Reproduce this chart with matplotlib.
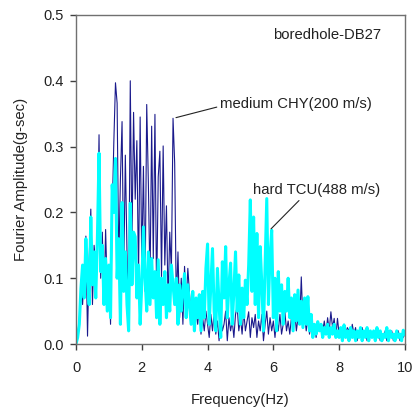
import numpy as np
import matplotlib
matplotlib.use('Agg')
import matplotlib.pyplot as plt

plt.rcParams['font.family'] = ['Liberation Sans', 'DejaVu Sans']

# frequency grid (Hz), 0.05 Hz step
freq = np.linspace(0.0, 10.0, 201)

# medium CHY (200 m/s), Fourier amplitude (g-sec)
chy = [
    0.000, 0.015, 0.035, 0.080, 0.060, 0.110, 0.164, 0.012, 0.130, 0.205,
    0.060, 0.150, 0.120, 0.155, 0.318, 0.100, 0.170, 0.060, 0.174, 0.080,
    0.110, 0.030, 0.200, 0.307, 0.397, 0.366, 0.120, 0.250, 0.338, 0.100,
    0.287, 0.140, 0.030, 0.400, 0.150, 0.352, 0.220, 0.309, 0.100, 0.345,
    0.120, 0.270, 0.080, 0.364, 0.245, 0.090, 0.331, 0.130, 0.349, 0.070,
    0.254, 0.293, 0.100, 0.301, 0.120, 0.210, 0.060, 0.170, 0.110, 0.343,
    0.275, 0.060, 0.140, 0.040, 0.100, 0.030, 0.118, 0.060, 0.115, 0.077,
    0.040, 0.070, 0.020, 0.050, 0.030, 0.060, 0.015, 0.040, 0.020, 0.050,
    0.030, 0.010, 0.045, 0.020, 0.050, 0.015, 0.035, 0.005, 0.040, 0.020,
    0.030, 0.050, 0.005, 0.040, 0.020, 0.035, 0.010, 0.045, 0.057, 0.020,
    0.040, 0.015, 0.050, 0.020, 0.035, 0.049, 0.010, 0.040, 0.025, 0.045,
    0.010, 0.035, 0.020, 0.045, 0.005, 0.030, 0.050, 0.015, 0.040, 0.020,
    0.035, 0.010, 0.040, 0.020, 0.045, 0.015, 0.030, 0.050, 0.020, 0.035,
    0.015, 0.040, 0.025, 0.050, 0.020, 0.040, 0.030, 0.102, 0.030, 0.045,
    0.020, 0.040, 0.015, 0.035, 0.020, 0.030, 0.010, 0.025, 0.020, 0.030,
    0.020, 0.035, 0.015, 0.040, 0.020, 0.049, 0.025, 0.039, 0.010, 0.039,
    0.015, 0.025, 0.010, 0.030, 0.015, 0.025, 0.020, 0.010, 0.030, 0.015,
    0.025, 0.005, 0.020, 0.015, 0.025, 0.010, 0.020, 0.005, 0.015, 0.020,
    0.010, 0.020, 0.005, 0.015, 0.020, 0.005, 0.015, 0.010, 0.020, 0.005,
    0.015, 0.010, 0.020, 0.005, 0.015, 0.010, 0.020, 0.005, 0.015, 0.010,
    0.015,
]

# hard TCU (488 m/s), Fourier amplitude (g-sec)
tcu = [
    0.000, 0.010, 0.030, 0.085, 0.120, 0.070, 0.160, 0.100, 0.060, 0.193,
    0.090, 0.140, 0.070, 0.160, 0.290, 0.110, 0.150, 0.060, 0.130, 0.050,
    0.120, 0.040, 0.242, 0.200, 0.282, 0.100, 0.160, 0.030, 0.215, 0.080,
    0.140, 0.060, 0.020, 0.214, 0.090, 0.170, 0.163, 0.070, 0.120, 0.030,
    0.090, 0.178, 0.100, 0.050, 0.140, 0.060, 0.130, 0.070, 0.110, 0.040,
    0.128, 0.030, 0.100, 0.060, 0.110, 0.040, 0.090, 0.050, 0.120, 0.090,
    0.060, 0.100, 0.030, 0.090, 0.050, 0.080, 0.107, 0.040, 0.090, 0.060,
    0.030, 0.080, 0.020, 0.070, 0.040, 0.075, 0.020, 0.080, 0.040, 0.115,
    0.152, 0.030, 0.090, 0.145, 0.050, 0.020, 0.115, 0.060, 0.010, 0.125,
    0.070, 0.148, 0.040, 0.090, 0.123, 0.030, 0.080, 0.140, 0.050, 0.105,
    0.030, 0.085, 0.040, 0.097, 0.060, 0.120, 0.219, 0.080, 0.193, 0.060,
    0.168, 0.040, 0.148, 0.090, 0.020, 0.120, 0.221, 0.060, 0.133, 0.173,
    0.040, 0.100, 0.020, 0.110, 0.050, 0.090, 0.030, 0.080, 0.050, 0.100,
    0.040, 0.070, 0.020, 0.075, 0.035, 0.082, 0.030, 0.065, 0.025, 0.070,
    0.030, 0.072, 0.020, 0.045, 0.010, 0.030, 0.015, 0.034, 0.020, 0.030,
    0.010, 0.025, 0.015, 0.030, 0.010, 0.025, 0.015, 0.030, 0.010, 0.020,
    0.010, 0.025, 0.005, 0.029, 0.010, 0.020, 0.005, 0.025, 0.010, 0.020,
    0.005, 0.020, 0.010, 0.025, 0.005, 0.020, 0.010, 0.025, 0.005, 0.020,
    0.010, 0.020, 0.005, 0.025, 0.010, 0.020, 0.005, 0.015, 0.010, 0.025,
    0.005, 0.020, 0.010, 0.015, 0.005, 0.020, 0.010, 0.015, 0.005, 0.021,
    0.015,
]

fig = plt.figure(figsize=(4.14, 4.16), dpi=100)
ax = fig.add_axes([0.1836, 0.173, 0.7944, 0.791])

ax.plot(freq, chy, color='#1a1a8c', linewidth=0.8)
ax.plot(freq, tcu, color='#00ffff', linewidth=2.2)

ax.set_xlim(0, 10)
ax.set_ylim(0, 0.5)
ax.set_xticks([0, 2, 4, 6, 8, 10])
ax.set_yticks([0.0, 0.1, 0.2, 0.3, 0.4, 0.5])
ax.set_yticklabels(['0.0', '0.1', '0.2', '0.3', '0.4', '0.5'])

for s in ax.spines.values():
    s.set_color('#707070')
    s.set_linewidth(1.0)
ax.tick_params(direction='out', length=4, width=1, color='#404040',
               labelsize=10.5, labelcolor='#222222')
ax.tick_params(axis='x', pad=8.5)
ax.tick_params(axis='y', pad=5)

ax.set_xlabel('Frequency(Hz)', fontsize=10.7, color='#222222', labelpad=13)
ax.set_ylabel('Fourier Amplitude(g-sec)', fontsize=10.7, color='#222222', labelpad=11)

ax.text(5.99, 0.470, 'boredhole-DB27', fontsize=10.7, ha='left', va='center', color='#222222')

# leader lines and labels
ax.annotate('', xy=(3.04, 0.344), xytext=(4.28, 0.360),
            arrowprops=dict(arrowstyle='-', color='#222222', lw=0.8,
                            shrinkA=0, shrinkB=0))
ax.text(4.38, 0.365, 'medium CHY(200 m/s)', fontsize=10.7, va='center', color='#222222')

ax.annotate('', xy=(5.93, 0.175), xytext=(6.78, 0.218),
            arrowprops=dict(arrowstyle='-', color='#222222', lw=0.8,
                            shrinkA=0, shrinkB=0))
ax.text(5.38, 0.234, 'hard TCU(488 m/s)', fontsize=10.7, va='center', color='#222222')

fig.savefig('out.png', dpi=100)
